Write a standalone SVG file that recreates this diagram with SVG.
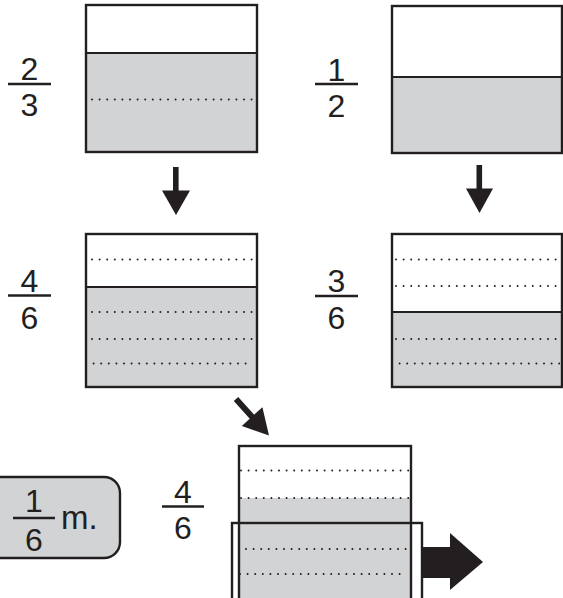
<svg xmlns="http://www.w3.org/2000/svg" width="563" height="598" viewBox="0 0 563 598">
<style>
.box{fill:none;stroke:#231f20;stroke-width:2.4}
.fillw{fill:#ffffff}
.gray{fill:#d1d3d4}
.div{stroke:#231f20;stroke-width:1.8}
.dot{stroke:#231f20;stroke-width:2;stroke-linecap:round;stroke-dasharray:0 7.6}
.bar{stroke:#231f20;stroke-width:2.4}
.num{font-family:"Liberation Sans",Arial,sans-serif;font-size:32px;fill:#231f20;text-anchor:middle}
.arr{fill:#231f20}
</style>
<rect width="563" height="598" fill="#ffffff"/>

<g id="box-2-3">
  <rect x="86" y="5" width="171" height="147" class="fillw"/>
  <rect x="86" y="53" width="171" height="99" class="gray"/>
  <line x1="86" y1="53" x2="257" y2="53" class="div"/>
  <line x1="92" y1="99.5" x2="253" y2="99.5" class="dot"/>
  <rect x="86" y="5" width="171" height="147" class="box"/>
</g>
<g id="frac-2-3">
  <text x="29.5" y="79.5" class="num">2</text>
  <line x1="8" y1="84" x2="51" y2="84" class="bar"/>
  <text x="29.5" y="115.5" class="num">3</text>
</g>

<g id="box-1-2">
  <rect x="392" y="6" width="170" height="147" class="fillw"/>
  <rect x="392" y="77" width="170" height="76" class="gray"/>
  <line x1="392" y1="77" x2="562" y2="77" class="div"/>
  <rect x="392" y="6" width="170" height="147" class="box"/>
</g>
<g id="frac-1-2">
  <text x="336.5" y="80.5" class="num">1</text>
  <line x1="315" y1="84" x2="358" y2="84" class="bar"/>
  <text x="336.5" y="117" class="num">2</text>
</g>

<g id="box-4-6">
  <rect x="86" y="234" width="171" height="153" class="fillw"/>
  <rect x="86" y="287" width="171" height="100" class="gray"/>
  <line x1="86" y1="287" x2="257" y2="287" class="div"/>
  <line x1="92" y1="259.5" x2="253" y2="259.5" class="dot"/>
  <line x1="92" y1="312" x2="253" y2="312" class="dot"/>
  <line x1="92" y1="339" x2="253" y2="339" class="dot"/>
  <line x1="86" y1="363.5" x2="253" y2="363.5" class="dot"/>
  <rect x="86" y="234" width="171" height="153" class="box"/>
</g>
<g id="frac-4-6">
  <text x="29.5" y="291.5" class="num">4</text>
  <line x1="8" y1="295.5" x2="51" y2="295.5" class="bar"/>
  <text x="29.5" y="328.5" class="num">6</text>
</g>

<g id="box-3-6">
  <rect x="392" y="234" width="170" height="153" class="fillw"/>
  <rect x="392" y="312" width="170" height="75" class="gray"/>
  <line x1="392" y1="312" x2="562" y2="312" class="div"/>
  <line x1="396" y1="259.5" x2="561" y2="259.5" class="dot"/>
  <line x1="396" y1="286" x2="561" y2="286" class="dot"/>
  <line x1="396" y1="339" x2="561" y2="339" class="dot"/>
  <line x1="392" y1="363.5" x2="561" y2="363.5" class="dot"/>
  <rect x="392" y="234" width="170" height="153" class="box"/>
</g>
<g id="frac-3-6">
  <text x="336.5" y="292" class="num">3</text>
  <line x1="315" y1="296" x2="358" y2="296" class="bar"/>
  <text x="336.5" y="328.5" class="num">6</text>
</g>

<g id="box-result">
  <rect x="239" y="446" width="172" height="160" class="fillw"/>
  <rect x="239" y="498" width="172" height="108" class="gray"/>
  <line x1="241" y1="470.5" x2="409" y2="470.5" class="dot"/>
  <line x1="241" y1="498" x2="409" y2="498" class="dot"/>
  <line x1="246" y1="549" x2="406" y2="549" class="dot"/>
  <line x1="240" y1="574" x2="406" y2="574" class="dot"/>
  <rect x="239" y="446" width="172" height="160" class="box"/>
  <rect x="232" y="523" width="190" height="83" class="box"/>
</g>
<g id="frac-4-6-b">
  <text x="183" y="502.5" class="num">4</text>
  <line x1="162" y1="506.5" x2="204" y2="506.5" class="bar"/>
  <text x="183" y="538.5" class="num">6</text>
</g>

<g id="label-1-6-m">
  <rect x="-20" y="477" width="140" height="81" rx="16" ry="16" fill="#d1d3d4" stroke="#231f20" stroke-width="2.4"/>
  <text x="34" y="511.5" class="num">1</text>
  <line x1="13" y1="518" x2="55" y2="518" class="bar"/>
  <text x="34" y="551" class="num">6</text>
  <text x="61" y="529" font-family="Liberation Sans, Arial, sans-serif" font-size="33" fill="#231f20">m.</text>
</g>

<g id="connectors">
  <rect x="173" y="167" width="5.6" height="25" class="arr"/>
  <polygon points="162,190.5 190,190.5 176,215" class="arr"/>
  <rect x="476.5" y="165" width="5.6" height="25" class="arr"/>
  <polygon points="466,188.5 493,188.5 479.5,213" class="arr"/>
  <line x1="236" y1="399" x2="254" y2="419" stroke="#231f20" stroke-width="6"/>
  <polygon points="241.8,426 262.4,407.2 269,435.5" class="arr"/>
  <rect x="422" y="547" width="29" height="31" class="arr"/>
  <polygon points="450,533 483,562 450,590" class="arr"/>
</g>
</svg>
